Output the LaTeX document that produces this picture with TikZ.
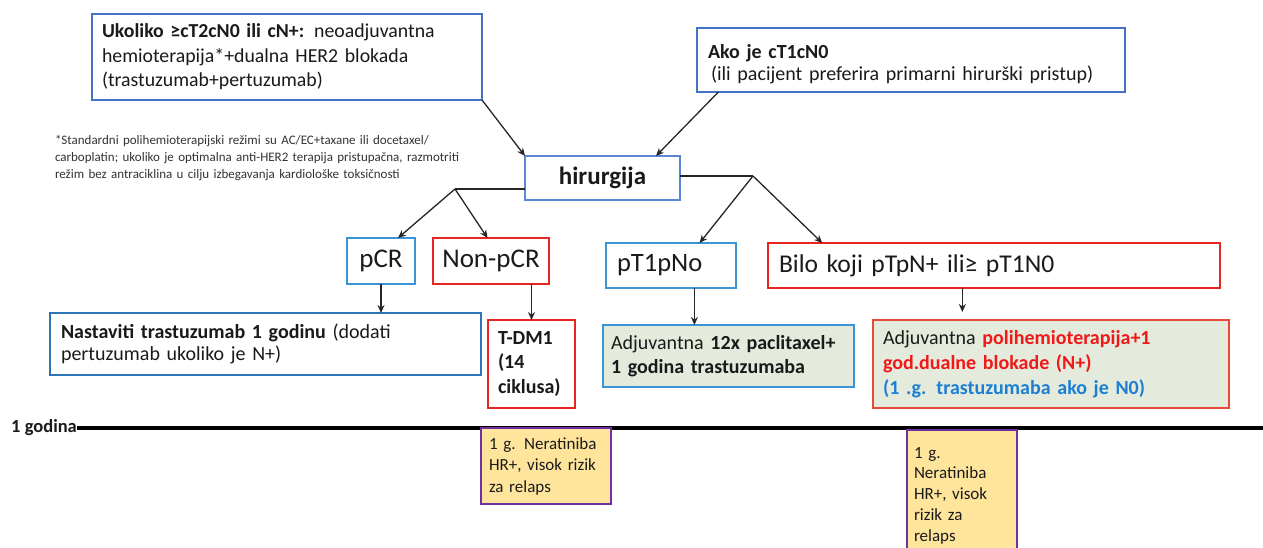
\documentclass[tikz,border=0pt]{standalone}
\usepackage{fontspec}
\setmainfont{Carlito}
\usetikzlibrary{arrows.meta,calc}
\definecolor{bblue}{HTML}{4472C4}
\definecolor{mblue}{HTML}{2E75B6}
\definecolor{lblue}{HTML}{3A95D6}
\definecolor{hblue}{HTML}{5B86D6}
\definecolor{rred}{HTML}{E8251E}
\definecolor{bred}{HTML}{E84A3A}
\definecolor{gfill}{HTML}{E4EBDC}
\definecolor{yfill}{HTML}{FFE59C}
\definecolor{purp}{HTML}{7030A0}
\definecolor{txtred}{HTML}{F01818}
\definecolor{txtblue}{HTML}{1C7FD2}
\definecolor{ink}{HTML}{1A1A1A}
\begin{document}
\begin{tikzpicture}[x=1pt,y=-1pt,
  bx/.style={anchor=north west, inner ysep=0pt, outer sep=0pt, align=left, text=ink},
  cbx/.style={anchor=north west, inner sep=0pt, outer sep=0pt, align=center, text=ink},
  arr/.style={draw=black!85, line width=1.3pt, -{Stealth[length=8pt,width=7pt]}},
  ln/.style={draw=black!85, line width=1.3pt}
]
\useasboundingbox[fill=white] (0,0) rectangle (1263,548);

% top boxes
\node[bx, draw=bblue, line width=2.6pt, minimum width=390pt, minimum height=86pt,
      text width=370pt, inner xsep=10pt, font=\fontsize{19.8}{24.5}\selectfont]
  (b1) at (92,14) {\textbf{Ukoliko ≥cT2cN0 ili cN+:} neoadjuvantna\\hemioterapija*+dualna HER2 blokada\\(trastuzumab+pertuzumab)};

\node[bx, draw=bblue, line width=2.6pt, minimum width=428pt, minimum height=64pt,
      text width=406pt, inner xsep=11pt, font=\fontsize{20}{22}\selectfont]
  (ako) at (697,28) {\rule{0pt}{22pt}\textbf{Ako je cT1cN0}\\\hspace*{3pt}(ili pacijent preferira primarni hirurški pristup)};

\node[bx, inner xsep=0pt, text width=470pt, font=\fontsize{13}{17}\selectfont, text=black!80]
  (fn) at (55,135) {*Standardni polihemioterapijski režimi su AC/EC+taxane ili docetaxel/\\carboplatin; ukoliko je optimalna anti-HER2 terapija pristupačna, razmotriti\\režim bez antraciklina u cilju izbegavanja kardiološke toksičnosti};

\node[cbx, draw=hblue, line width=1.2pt, minimum width=155pt, minimum height=44pt,
      font=\fontsize{25}{28}\selectfont\bfseries]
  (hir) at (525,156) {hirurgija};

% second level
\node[cbx, draw=lblue, line width=1.3pt, minimum width=68pt, minimum height=46pt,
      font=\fontsize{27}{30}\selectfont] (pcr) at (347,238) {pCR};
\node[cbx, draw=rred, line width=1.3pt, minimum width=116pt, minimum height=46pt,
      font=\fontsize{27}{30}\selectfont] (npcr) at (433,238) {Non-pCR};
\node[bx, draw=lblue, line width=1.3pt, minimum width=130pt, minimum height=45pt,
      text width=108pt, inner xsep=11pt, font=\fontsize{26.5}{30}\selectfont] (pt1) at (606,243) {pT1pNo};
\node[bx, draw=rred, line width=1.3pt, minimum width=452pt, minimum height=45pt,
      text width=430pt, inner xsep=11pt, font=\fontsize{25.6}{30}\selectfont] (bilo) at (768,243) {Bilo koji pTpN+ ili≥ pT1N0};

% third level
\node[bx, draw=mblue, line width=2.8pt, minimum width=431pt, minimum height=62pt,
      text width=409pt, inner xsep=11pt, font=\fontsize{20}{22}\selectfont]
  (nast) at (50,313) {\textbf{Nastaviti trastuzumab 1 godinu} (dodati\\pertuzumab ukoliko je N+)};

\node[bx, draw=rred, line width=2.8pt, minimum width=87pt, minimum height=88pt,
      text width=67pt, inner xsep=10pt, font=\fontsize{20}{24.5}\selectfont\bfseries]
  (tdm) at (488,320) {T-DM1\\(14\\ciklusa)};

\node[bx, draw=lblue, fill=gfill, line width=1.8pt, minimum width=251pt, minimum height=62pt,
      text width=235pt, inner xsep=8pt, font=\fontsize{20}{24}\selectfont]
  (grn) at (603,325) {Adjuvantna \textbf{12x paclitaxel+}\\\textbf{1 godina trastuzumaba}};

\node[bx, draw=bred, fill=gfill, line width=1.8pt, minimum width=356pt, minimum height=88pt,
      text width=336pt, inner xsep=10pt, font=\fontsize{20}{25}\selectfont]
  (red) at (873,320) {Adjuvantna {\bfseries\color{txtred}polihemioterapija+1\\god.dualne blokade (N+)}\\{\bfseries\color{txtblue}(1 .g. trastuzumaba ako je N0)}};

% timeline
\node[anchor=west, inner sep=0pt, font=\fontsize{18.5}{20}\selectfont\bfseries, text=ink] (yr) at (11,428) {1 godina};
\coordinate (tend) at (1263,428);
\draw[line width=3.5pt, black] (yr.east) -- (tend);

\node[bx, draw=purp, fill=yfill, line width=2pt, minimum width=130pt, minimum height=76pt,
      text width=114pt, inner xsep=8pt, font=\fontsize{17}{21.5}\selectfont]
  (pl) at (481,428) {1 g. Neratiniba\\HR+, visok rizik\\za relaps};
\node[bx, draw=purp, fill=yfill, line width=2pt, minimum width=110pt, minimum height=131pt,
      text width=96pt, inner xsep=7pt, font=\fontsize{17}{20.7}\selectfont]
  (pr) at (907,430) {1 g.\\Neratiniba\\HR+, visok\\rizik za\\relaps};

% connectors
\coordinate (sl) at (455,189);
\coordinate (sr) at (753,176);
\draw[arr] (b1.south east) -- (hir.north west);
\draw[arr] ($(ako.south west)!0.05!(ako.south east)$) -- ($(hir.north west)!0.845!(hir.north east)$);
\draw[ln] (sl -| hir.west) -- (sl);
\draw[arr] (sl) -- ($(pcr.north west)!0.75!(pcr.north east)$);
\draw[arr] (sl) -- ($(npcr.north west)!0.47!(npcr.north east)$);
\draw[ln] (sr -| hir.east) -- (sr);
\draw[arr] (sr) -- ($(pt1.north west)!0.72!(pt1.north east)$);
\draw[arr] (sr) -- ($(bilo.north west)!0.12!(bilo.north east)$);
\draw[arr] (pcr.south) -- (pcr.south |- nast.north);
\draw[arr] (npcr.south -| tdm.north) -- (tdm.north);
\coordinate (pt1b) at ($(pt1.south west)!0.68!(pt1.south east)$);
\draw[arr] (pt1b) -- (pt1b |- grn.north);
\coordinate (bilob) at ($(bilo.south west)!0.43!(bilo.south east)$);
\draw[arr, shorten >=8pt] (bilob) -- (bilob |- red.north);
\end{tikzpicture}
\end{document}
